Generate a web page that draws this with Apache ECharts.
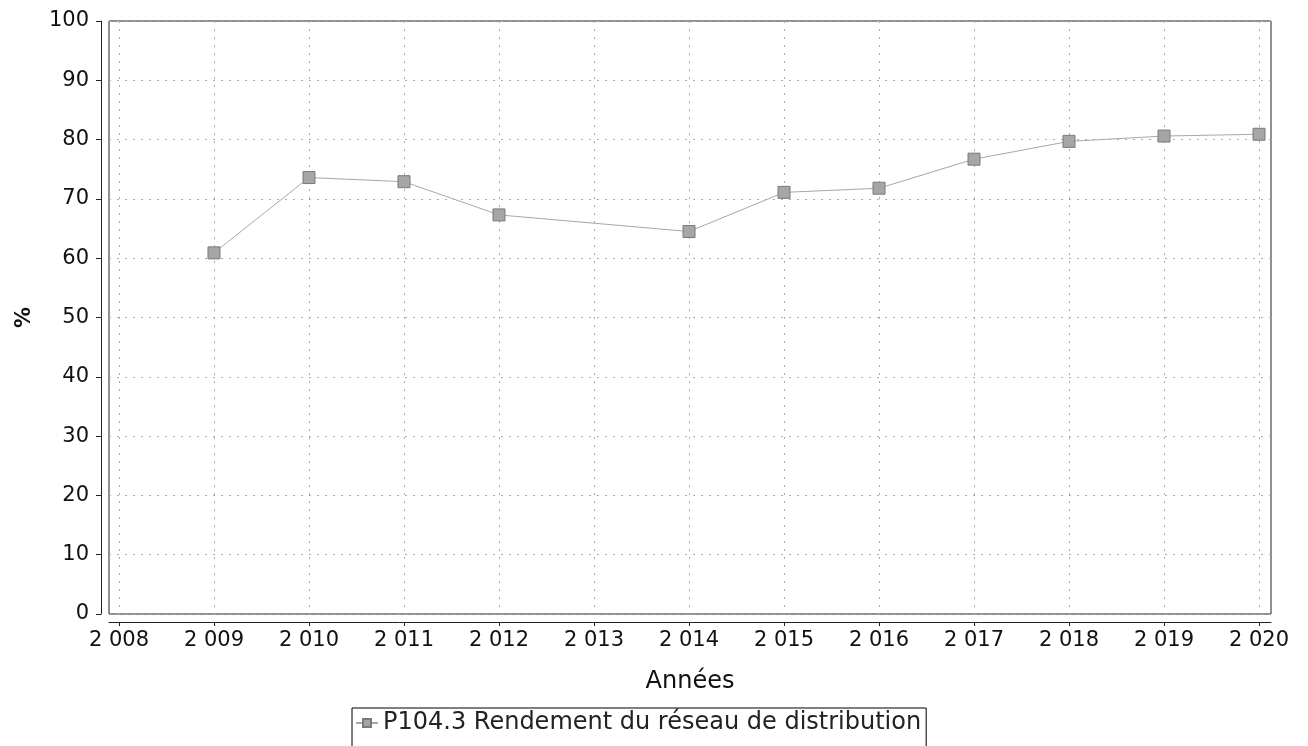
<!DOCTYPE html>
<html>
<head>
<meta charset="utf-8">
<script src="https://cdn.jsdelivr.net/npm/echarts@6/dist/echarts.min.js"></script>
<style>
  html, body { margin: 0; padding: 0; background: #fff; }
  #chart { width: 1308px; height: 746px; }
</style>
</head>
<body>
<div id="chart"></div>
<script>
// values (2013 has no point)
const years = [2009, 2010, 2011, 2012, 2014, 2015, 2016, 2017, 2018, 2019, 2020];
const rendement = [60.9, 73.6, 72.9, 67.3, 64.5, 71.1, 71.8, 76.7, 79.7, 80.6, 80.9];
const tickYears = [2008, 2009, 2010, 2011, 2012, 2013, 2014, 2015, 2016, 2017, 2018, 2019, 2020];
const seriesName = 'P104.3 Rendement du réseau de distribution';

const chart = echarts.init(document.getElementById('chart'));

const fmtYear = (v) => String(Math.round(v)).replace(/(\d)(\d{3})$/, '$1 $2');
const font = 'DejaVu Sans';

chart.setOption({
  animation: false,
  backgroundColor: '#fff',
  grid: {
    left: 109, right: 37, top: 21, bottom: 132,
    show: true, borderColor: '#222', borderWidth: 1
  },
  legend: {
    left: 352, top: 708,
    data: [seriesName],
    borderColor: '#000', borderWidth: 1, borderRadius: 0,
    padding: [3, 5, 14, 3],
    itemWidth: 22, itemHeight: 10, itemGap: 4,
    textStyle: { fontFamily: font, fontSize: 24, color: '#222' }
  },
  xAxis: {
    type: 'value',
    min: 2007.895, max: 2020.126,
    offset: 8,
    name: 'Années',
    nameLocation: 'middle', nameGap: 48,
    nameTextStyle: { fontFamily: font, fontSize: 24, color: '#111', fontWeight: 500 },
    axisLine: { onZero: false, lineStyle: { color: '#222', width: 1 } },
    axisTick: { customValues: tickYears, length: 4, lineStyle: { color: '#222' } },
    axisLabel: {
      customValues: tickYears, formatter: fmtYear, margin: 8,
      fontFamily: font, fontSize: 21, color: '#111'
    },
    splitLine: { show: true, lineStyle: { color: '#aaa', type: [2, 6], width: 1 } }
  },
  yAxis: {
    type: 'value',
    min: 0, max: 100, interval: 10,
    offset: 8,
    name: '%',
    nameLocation: 'middle', nameGap: 66, nameRotate: 90,
    nameTextStyle: { fontFamily: font, fontSize: 21, fontWeight: 'bold', color: '#111' },
    axisLine: { show: true, onZero: false, lineStyle: { color: '#222', width: 1 } },
    axisTick: { show: true, length: 5, lineStyle: { color: '#222' } },
    axisLabel: { margin: 12, fontFamily: font, fontSize: 21, color: '#111' },
    splitLine: { show: true, lineStyle: { color: '#aaa', type: [2, 6], width: 1 } }
  },
  series: [{
    name: seriesName,
    type: 'line',
    data: years.map((y, i) => [y, rendement[i]]),
    symbol: 'rect',
    symbolSize: 12,
    showAllSymbol: true,
    lineStyle: { color: '#a8a8a8', width: 1 },
    itemStyle: { color: '#a6a6a6', borderColor: '#7a7a7a', borderWidth: 1 },
    emphasis: { disabled: true }
  }]
});
</script>
</body>
</html>
